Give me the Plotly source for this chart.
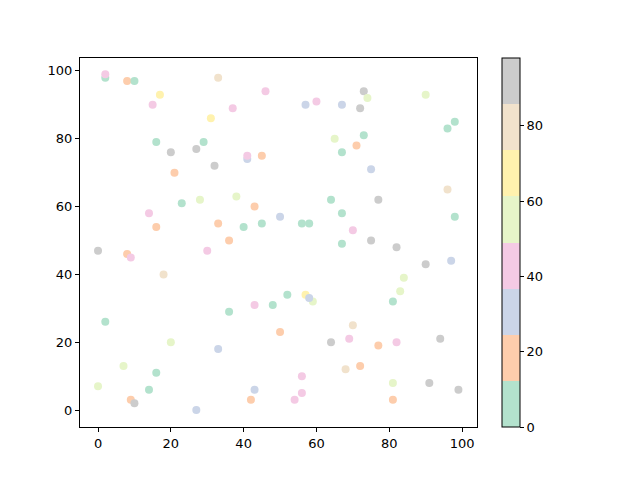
import plotly.graph_objects as go

# color class values (Pastel2 bins, 0..98)
G, O, B, P, L, Y, E, K = 6, 18, 30, 43, 55, 67, 80, 92

x = [2, 2, 8, 10, 33, 17, 15, 46, 37, 31, 16, 20, 29, 27, 32, 41, 41, 45, 21, 23,
     28, 38, 14, 16, 43, 33, 40, 45, 36, 50, 57, 60, 67, 73, 74, 72, 90, 98, 96, 65,
     73, 71, 67, 75, 96, 64, 77, 67, 56, 58, 98, 70, 67, 75, 82, 90, 97, 84, 83, 81,
     52, 48, 57, 59, 58, 50, 70, 64, 69, 77, 82, 94, 68, 72, 56, 56, 54, 81, 91, 99,
     81, 0, 8, 9, 30, 18, 2, 36, 43, 20, 33, 7, 16, 0, 14, 9, 10, 27, 43, 42]
y = [98, 99, 97, 97, 98, 93, 90, 94, 89, 86, 79, 76, 79, 77, 72, 74, 75, 75, 70, 61,
     62, 63, 58, 54, 60, 55, 54, 55, 50, 57, 90, 91, 90, 94, 92, 89, 93, 85, 83, 80,
     81, 78, 76, 71, 65, 62, 62, 58, 55, 55, 57, 53, 49, 50, 48, 43, 44, 39, 35, 32,
     34, 31, 34, 32, 33, 23, 25, 20, 21, 19, 20, 21, 12, 13, 10, 5, 3, 8, 8, 6,
     3, 47, 46, 45, 47, 40, 26, 29, 31, 20, 18, 13, 11, 7, 6, 3, 2, 0, 6, 3]
c = [G, P, O, G, E, Y, P, P, P, Y, G, K, G, K, K, B, P, O, O, G,
     L, L, P, O, O, O, G, G, O, B, B, P, B, K, L, K, L, G, G, L,
     G, O, G, B, E, G, K, G, G, G, G, P, G, K, K, K, B, L, L, G,
     G, G, Y, L, B, O, E, K, P, O, P, K, E, O, P, P, P, L, K, K,
     O, K, O, P, P, E, G, G, P, L, B, L, G, L, G, O, K, B, B, O]

pastel2 = ["#b3e2cd", "#fdcdac", "#cbd5e8", "#f4cae4",
           "#e6f5c9", "#fff2ae", "#f1e2cc", "#cccccc"]
cmin, cmax = 0, 98
n = len(pastel2)
scale = []
for i, col in enumerate(pastel2):
    scale.append([i / n, col])
    scale.append([(i + 1) / n, col])

fig = go.Figure(go.Scatter(
    x=x, y=y, mode="markers",
    marker=dict(size=8, color=c, cmin=cmin, cmax=cmax, colorscale=scale,
                line=dict(width=0),
                colorbar=dict(thickness=18, len=1, lenmode="fraction", y=0.5,
                              yanchor="middle", x=1.063, xanchor="left",
                              xpad=0, ypad=0,
                              outlinewidth=1, outlinecolor="black",
                              tickvals=[0, 20, 40, 60, 80], ticks="outside",
                              ticklen=4, tickcolor="black",
                              tickfont=dict(family="DejaVu Sans", size=13, color="black"))),
    showlegend=False))

axis = dict(showgrid=False, zeroline=False, showline=True, linecolor="black",
            linewidth=1, mirror=True, ticks="outside", ticklen=4, tickcolor="black",
            tickfont=dict(family="DejaVu Sans", size=13, color="black"))
fig.update_xaxes(range=[-4.95, 104.1], tickvals=[0, 20, 40, 60, 80, 100], **axis)
fig.update_yaxes(range=[-5.0, 103.8], tickvals=[0, 20, 40, 60, 80, 100], **axis)
fig.update_layout(width=640, height=480, paper_bgcolor="white", plot_bgcolor="white",
                  margin=dict(l=72, r=171, t=50, b=61))
fig.write_html("out.html")
